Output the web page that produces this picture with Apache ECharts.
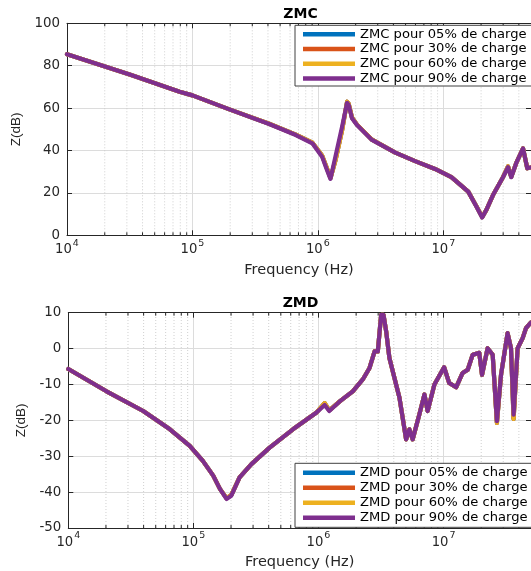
<!DOCTYPE html>
<html>
<head>
<meta charset="utf-8">
<script src="https://cdn.jsdelivr.net/npm/echarts@6/dist/echarts.min.js"></script>
<style>
html,body{margin:0;padding:0;background:#fff;}
#c{width:531px;height:571px;}
</style>
</head>
<body>
<div id="c"></div>
<script>
// ---------- DATA ----------
var legendZMC = ['ZMC pour 05% de charge','ZMC pour 30% de charge','ZMC pour 60% de charge','ZMC pour 90% de charge'];
var legendZMD = ['ZMD pour 05% de charge','ZMD pour 30% de charge','ZMD pour 60% de charge','ZMD pour 90% de charge'];
var colors = ['#0072BD','#D95319','#EDB120','#7E2F8E'];

// ZMC: frequency (Hz) and Z (dB)
var zmcFreq = [1e4,3.16e4,7.9e4,1e5,1.97e5,4.09e5,6.67e5,9.04e5,1.08e6,1.17e6,1.26e6,1.38e6,1.56e6,1.71e6,1.76e6,1.87e6,2.05e6,2.7e6,4.14e6,5.96e6,8.59e6,1.16e7,1.58e7,1.84e7,2.04e7,2.2e7,2.49e7,2.99e7,3.28e7,3.48e7,3.81e7,4.32e7,4.67e7,5e7];
var zmc90 =   [85.4,75.8,67.7,66.0,59.4,52.5,47.3,43.4,37.1,31.5,26.6,37.1,51.2,62.5,61.5,55.2,52.0,45.0,39.0,35.0,31.3,27.4,20.6,13.5,8.4,11.9,19.0,27.4,32.1,27.4,34.0,41.0,31.6,32.0];
var zmcLow =  [85.4,75.8,67.7,66.0,59.4,52.6,47.5,43.7,37.6,32.2,27.0,35.3,49.6,63.0,62.0,55.6,52.2,45.1,39.0,35.0,31.3,27.4,20.6,13.6,8.6,11.9,19.0,27.4,32.5,27.6,34.0,41.0,31.6,32.0];

// ZMD: frequency (Hz) and Z (dB)
var zmdFreq = [1e4,2.02e4,3.97e4,6.49e4,9.35e4,1.19e5,1.44e5,1.63e5,1.84e5,2.01e5,2.34e5,2.91e5,4.07e5,6.25e5,9.59e5,1.12e6,1.22e6,1.47e6,1.88e6,2.26e6,2.56e6,2.81e6,2.98e6,3.17e6,3.31e6,3.48e6,3.69e6,4.44e6,5.02e6,5.33e6,5.66e6,6.41e6,7.03e6,7.46e6,8.45e6,1.01e7,1.11e7,1.26e7,1.42e7,1.56e7,1.71e7,1.93e7,2.03e7,2.25e7,2.47e7,2.67e7,2.88e7,3.25e7,3.46e7,3.63e7,3.91e7,4.29e7,4.56e7,4.94e7,5e7];
var zmd90 =   [-5.7,-11.9,-17.4,-22.5,-27.1,-31.3,-35.4,-39.1,-41.9,-41.0,-35.9,-32.2,-27.6,-22.5,-17.9,-15.7,-17.4,-14.8,-11.9,-8.6,-5.4,-0.8,-0.8,9.4,9.4,4.7,-2.6,-13.7,-25.3,-22.5,-25.3,-18.3,-12.8,-17.4,-10.0,-5.2,-9.6,-10.8,-6.8,-5.9,-1.7,-1.2,-7.3,0.1,-1.7,-20.2,-7.3,4.3,0.1,-18.4,0.1,2.9,5.7,7.1,7.3];
var zmdLow =  [-5.7,-11.9,-17.4,-22.5,-27.1,-31.3,-35.4,-39.1,-41.7,-40.8,-35.9,-32.2,-27.6,-22.5,-17.9,-15.2,-17.2,-14.8,-11.9,-8.6,-5.4,-0.8,-0.8,9.4,9.4,4.7,-2.6,-13.7,-25.3,-22.5,-25.3,-18.3,-12.8,-17.4,-10.0,-5.2,-9.6,-10.8,-6.8,-5.9,-1.7,-1.2,-7.3,0.1,-1.7,-20.7,-7.3,4.3,0.1,-19.6,0.1,2.9,5.7,7.1,7.3];

// Axes
var xMin = 1e4, xMax = 5e7;
var zmcYTicks = [0,20,40,60,80,100];
var zmdYTicks = [-50,-40,-30,-20,-10,0,10];
var minorFreqs = [];
[1e4,1e5,1e6,1e7].forEach(function(d){ for (var k=2;k<=9;k++){ var f=d*k; if (f<xMax) minorFreqs.push(f);} });

// ---------- CHART ----------
var FONT = 'DejaVu Sans, Verdana, sans-serif';
var FONT_N = 'Liberation Sans, Arial, sans-serif';
var TXT = '#262626';
function pairs(xs, ys){ return xs.map(function(x,i){ return [x, ys[i]]; }); }

function xLabel(v){
  var l = Math.log10(v), e = Math.round(l);
  if (Math.abs(l-e) > 1e-6) return '';
  return '{b|10}{s|' + e + '}';
}

var grids = [
  {left: 67, top: 23.3, width: 466, height: 212},
  {left: 68.3, top: 312.7, width: 463.5, height: 216.6}
];
var yNameGaps = [28, 26.5];

var xAxes = [], yAxes = [], series = [];
[zmcYTicks, zmdYTicks].forEach(function(ticks, gi){
  var ymin = ticks[0], ymax = ticks[ticks.length-1];
  xAxes.push({
    type:'log', logBase:10, gridIndex:gi, min:xMin, max:xMax, position:'bottom',
    name:'Frequency (Hz)', nameLocation:'middle', nameGap:27,
    nameTextStyle:{fontFamily:FONT, fontSize:14.5, color:TXT},
    axisLine:{show:true, onZero:false, lineStyle:{color:TXT, width:1}},
    axisTick:{show:true, inside:true, length:5, lineStyle:{color:TXT}},
    axisLabel:{show:true, showMaxLabel:false, margin:3, formatter:xLabel,
      rich:{
        b:{fontFamily:FONT, fontSize:13.2, color:TXT, verticalAlign:'bottom', lineHeight:18},
        s:{fontFamily:FONT, fontSize:9.5, color:TXT, verticalAlign:'top', lineHeight:18, padding:[0,0,0,1]}
      }},
    splitLine:{show:true, lineStyle:{color:'#dcdcdc', width:1}}
  });
  xAxes.push({
    type:'log', logBase:10, gridIndex:gi, min:xMin, max:xMax, position:'top',
    axisLine:{show:true, onZero:false, lineStyle:{color:TXT, width:1}},
    axisTick:{show:true, inside:true, length:5, lineStyle:{color:TXT}},
    axisLabel:{show:false}, splitLine:{show:false}
  });
  yAxes.push({
    type:'value', gridIndex:gi, min:ymin, max:ymax, interval:(ticks[1]-ticks[0]), position:'left',
    name:'Z(dB)', nameLocation:'middle', nameGap:yNameGaps[gi], nameRotate:90,
    nameTextStyle:{fontFamily:FONT_N, fontSize:13.5, color:TXT},
    axisLine:{show:true, onZero:false, lineStyle:{color:TXT, width:1}},
    axisTick:{show:true, inside:true, length:5, lineStyle:{color:TXT}},
    axisLabel:{fontFamily:FONT, fontSize:13.4, color:TXT, margin:7},
    splitLine:{show:true, lineStyle:{color:'#dcdcdc', width:1}}
  });
  yAxes.push({
    type:'value', gridIndex:gi, min:ymin, max:ymax, interval:(ticks[1]-ticks[0]), position:'right',
    axisLine:{show:true, onZero:false, lineStyle:{color:TXT, width:1}},
    axisTick:{show:true, inside:true, length:5, lineStyle:{color:TXT}},
    axisLabel:{show:false}, splitLine:{show:false}
  });
  // minor grid lines + minor ticks
  series.push({
    type:'custom', xAxisIndex:gi*2, yAxisIndex:gi*2, silent:true, z:1,
    data: minorFreqs.map(function(f){ return [f, ymin]; }),
    renderItem:function(params, api){
      var f = api.value(0);
      var p0 = api.coord([f, ymin]), p1 = api.coord([f, ymax]);
      return {type:'group', children:[
        {type:'line', shape:{x1:p0[0],y1:p0[1],x2:p1[0],y2:p1[1]}, style:{stroke:'#c4c4c4', lineWidth:0.8, lineDash:[1,2]}},
        {type:'line', shape:{x1:p0[0],y1:p0[1],x2:p0[0],y2:p0[1]-3}, style:{stroke:TXT, lineWidth:1}},
        {type:'line', shape:{x1:p1[0],y1:p1[1],x2:p1[0],y2:p1[1]+3}, style:{stroke:TXT, lineWidth:1}}
      ]};
    }
  });
});

function lineSeries(name, xs, ys, color, gi){
  return {type:'line', name:name, xAxisIndex:gi*2, yAxisIndex:gi*2, data:pairs(xs, ys),
    showSymbol:false, symbol:'none', smooth:false, z:3,
    lineStyle:{color:color, width:4.2, join:'round', cap:'round'}, itemStyle:{color:color}};
}
series.push(lineSeries(legendZMC[0], zmcFreq, zmcLow, colors[0], 0));
series.push(lineSeries(legendZMC[1], zmcFreq, zmcLow, colors[1], 0));
series.push(lineSeries(legendZMC[2], zmcFreq, zmcLow, colors[2], 0));
series.push(lineSeries(legendZMC[3], zmcFreq, zmc90, colors[3], 0));
series.push(lineSeries(legendZMD[0], zmdFreq, zmdLow, colors[0], 1));
series.push(lineSeries(legendZMD[1], zmdFreq, zmdLow, colors[1], 1));
series.push(lineSeries(legendZMD[2], zmdFreq, zmdLow, colors[2], 1));
series.push(lineSeries(legendZMD[3], zmdFreq, zmd90, colors[3], 1));

function legendCfg(names, top, lh, pad){
  return {
    data:names, orient:'vertical', left:295, top:top,
    icon:'rect', itemWidth:52, itemHeight:4.5, itemGap:0,
    padding:pad, backgroundColor:'#fff', borderColor:'#404040', borderWidth:1,
    textStyle:{fontFamily:FONT, fontSize:13.1, color:'#000', lineHeight:lh},
    selectedMode:false
  };
}

var option = {
  animation:false,
  backgroundColor:'#fff',
  grid:grids,
  xAxis:xAxes, yAxis:yAxes, series:series,
  legend:[legendCfg(legendZMC, 25.3, 14.8, [1.5,6,0,8]), legendCfg(legendZMD, 463.3, 15, [2,6,2,8])],
  graphic:[
    {type:'text', x:300.5, y:14, style:{text:'ZMC', font:'bold 14px ' + FONT, fill:'#000', textAlign:'center', textVerticalAlign:'middle'}},
    {type:'text', x:300.5, y:303, style:{text:'ZMD', font:'bold 14px ' + FONT, fill:'#000', textAlign:'center', textVerticalAlign:'middle'}}
  ]
};
var chart = echarts.init(document.getElementById('c'), null, {renderer:'canvas'});
chart.setOption(option);
</script>
</body>
</html>
